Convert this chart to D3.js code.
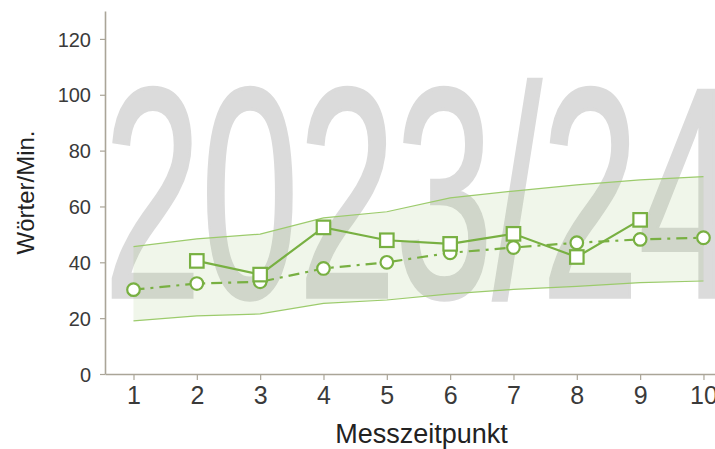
<!DOCTYPE html>
<html>
<head>
    <meta charset="utf-8">
    <title>Messzeitpunkt</title>
    <script src="https://cdn.jsdelivr.net/npm/d3@7"></script>
    <style>
        body{margin:0;background:#fff;}
        text{font-family:"Liberation Sans",Arial,sans-serif;}
    </style>
</head>
<body>
<script>
var w=715, h=449;

// Messzeitpunkte und Werte
var zeitpunkte=[1,2,3,4,5,6,7,8,9,10];
var bandOben=[45.6,48.4,50.1,55.9,58.1,63.1,65.5,67.7,69.5,70.7];
var bandUnten=[19.0,20.8,21.5,25.3,26.5,28.7,30.3,31.4,32.7,33.3];
var kreise=[30.2,32.4,33.0,37.8,40.0,43.4,45.3,47.0,48.2,48.8];
var quadrate=[null,40.5,35.6,52.5,47.9,46.6,50.2,41.9,55.2,null];
var yTicks=[0,20,40,60,80,100,120];
var wasserzeichen="2023/24";

var gruen="#78b042";

var svg=d3.select("body").append("svg")
    .attr("width",w).attr("height",h);

var x=d3.scaleLinear().domain([0.55,10.55]).range([105,738.3]);
var y=d3.scaleLinear().domain([0,130]).range([374,11]);

// Wasserzeichen (schmal gestaucht)
var wz=svg.append("text")
    .text(wasserzeichen)
    .attr("font-size",300)
    .attr("fill","#dbdbdb")
    .attr("stroke","#dbdbdb")
    .attr("stroke-width",3)
    .attr("vector-effect","non-scaling-stroke");
var len=wz.node().getComputedTextLength();
wz.attr("transform","translate(104,297) scale("+(632/len)+",1)");

// Band
var band=zeitpunkte.map(function(d,i){return {t:d,o:bandOben[i],u:bandUnten[i]};});
svg.append("path")
    .datum(band)
    .attr("fill",gruen).attr("fill-opacity",0.11)
    .attr("d",d3.area()
        .x(function(d){return x(d.t);})
        .y0(function(d){return y(d.u);})
        .y1(function(d){return y(d.o);}));

[bandOben,bandUnten].forEach(function(reihe){
    svg.append("path")
        .datum(reihe)
        .attr("fill","none").attr("stroke","#9ccb6c").attr("stroke-width",1.2)
        .attr("d",d3.line()
            .x(function(d,i){return x(zeitpunkte[i]);})
            .y(function(d){return y(d);}));
});

// Achsen
var xAxis=svg.append("g")
    .attr("transform","translate(0,"+y(0)+")")
    .call(d3.axisBottom(x).tickValues(zeitpunkte).tickSize(6).tickSizeOuter(0).tickPadding(6));
var yAxis=svg.append("g")
    .attr("transform","translate("+x(0.55)+",0)")
    .call(d3.axisLeft(y).tickValues(yTicks).tickSize(5).tickSizeOuter(0).tickPadding(9));
[xAxis,yAxis].forEach(function(a){
    a.select(".domain").attr("stroke","#aaa598").attr("stroke-width",1.6);
    a.selectAll(".tick line").attr("stroke","#aaa598").attr("stroke-width",1.2);
    a.selectAll(".tick text").attr("fill","#3a3a3a").style("font-family","Liberation Sans, Arial, sans-serif");
});
xAxis.selectAll(".tick text").attr("font-size",25);
yAxis.selectAll(".tick text").attr("font-size",20).attr("dy","0.36em");

svg.append("text")
    .attr("x",421.5).attr("y",443)
    .attr("text-anchor","middle")
    .attr("font-size",27).attr("fill","#222")
    .text("Messzeitpunkt");
svg.append("text")
    .attr("transform","translate(34,192.5) rotate(-90)")
    .attr("text-anchor","middle")
    .attr("font-size",24).attr("fill","#222")
    .text("Wörter/Min.");

// Linien
svg.append("path")
    .datum(kreise)
    .attr("fill","none").attr("stroke",gruen).attr("stroke-width",2.2)
    .attr("stroke-dasharray","11,6,3,6")
    .attr("d",d3.line()
        .x(function(d,i){return x(zeitpunkte[i]);})
        .y(function(d){return y(d);}));

svg.append("path")
    .datum(quadrate)
    .attr("fill","none").attr("stroke",gruen).attr("stroke-width",2.2)
    .attr("d",d3.line()
        .defined(function(d){return d!==null;})
        .x(function(d,i){return x(zeitpunkte[i]);})
        .y(function(d){return y(d);}));

// Marker
svg.selectAll("circle.k")
    .data(kreise)
    .enter().append("circle")
    .attr("class","k")
    .attr("cx",function(d,i){return x(zeitpunkte[i]);})
    .attr("cy",function(d){return y(d);})
    .attr("r",6.3)
    .attr("fill","#fff").attr("stroke",gruen).attr("stroke-width",2.2);

var s=13.5;
svg.selectAll("rect.q")
    .data(quadrate.map(function(v,i){return {t:zeitpunkte[i],v:v};}).filter(function(d){return d.v!==null;}))
    .enter().append("rect")
    .attr("class","q")
    .attr("x",function(d){return x(d.t)-s/2;})
    .attr("y",function(d){return y(d.v)-s/2;})
    .attr("width",s).attr("height",s)
    .attr("fill","#fff").attr("stroke",gruen).attr("stroke-width",2.2);
</script>
</body>
</html>
